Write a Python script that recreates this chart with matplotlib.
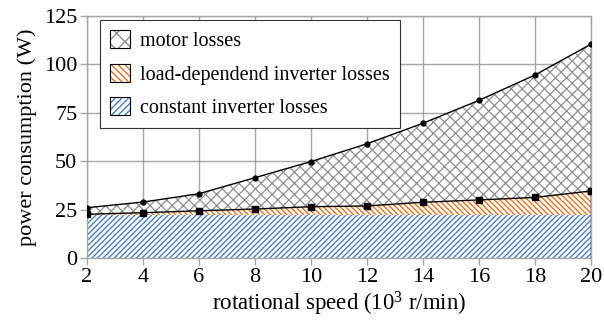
import matplotlib
matplotlib.use("Agg")
import matplotlib.pyplot as plt
from matplotlib.patches import Patch
import numpy as np

speed = [2, 4, 6, 8, 10, 12, 14, 16, 18, 20]
total = [26.0, 28.9, 33.2, 41.5, 49.8, 59.0, 69.6, 81.4, 94.5, 110.4]
inverter_total = [22.6, 23.4, 24.4, 25.3, 26.5, 26.9, 28.8, 30.0, 31.3, 34.6]
constant_loss = 22.2
labels = ["motor losses", "load-dependend inverter losses", "constant inverter losses"]

plt.rcParams['font.family'] = ['Liberation Serif', 'DejaVu Serif']
plt.rcParams['mathtext.default'] = 'regular'

blue = '#4a7ec4'
orange = '#e8731a'
grayh = '#8f8f8f'
H_BLUE = '//////'
H_OR = '\\' * 6
H_X = 'xxx'

fig = plt.figure(figsize=(6.04, 3.28), dpi=100)
ax = fig.add_axes([0.144, 0.2134, 0.834, 0.7376])

x = np.array(speed)
tot = np.array(total)
inv = np.array(inverter_total)
const = np.full_like(x, constant_loss, dtype=float)

with plt.rc_context({'hatch.linewidth': 1.0}):
    ax.fill_between(x, 0, const, facecolor='white', edgecolor=blue, hatch=H_BLUE, linewidth=0, zorder=2)
    ax.fill_between(x, const, inv, facecolor='white', edgecolor=orange, hatch=H_OR, linewidth=0, zorder=2)
    hb = Patch(facecolor='white', edgecolor=blue, hatch='/////', lw=0)
    ho = Patch(facecolor='white', edgecolor=orange, hatch='\\' * 5, lw=0)
with plt.rc_context({'hatch.linewidth': 0.9}):
    ax.fill_between(x, inv, tot, facecolor='white', edgecolor=grayh, hatch=H_X, linewidth=0, zorder=2)
    hx = Patch(facecolor='white', edgecolor=grayh, hatch='xx', lw=0)

ax.plot(x, tot, color='black', lw=1.0, marker='o', ms=3.5, zorder=4)
ax.plot(x, inv, color='black', lw=1.0, marker='s', ms=4.5, zorder=4)
ax.plot([x[-1], x[-1]], [0, tot[-1]], color='black', lw=1.0, zorder=4)

ax.set_xlim(2, 20)
ax.set_ylim(0, 125)
ax.set_xticks(speed)
ax.set_yticks([0, 25, 50, 75, 100, 125])
ax.grid(True, color='#a6a6a6', lw=1.0, zorder=1)
ax.set_axisbelow(True)
for s in ax.spines.values():
    s.set_color('#a6a6a6')
    s.set_linewidth(1.0)
ax.tick_params(axis='both', direction='out', length=5, width=1.0, color='#a6a6a6',
               labelsize=16, pad=2)

ax.set_xlabel('rotational speed (10$^3$ r/min)', fontsize=16.5, labelpad=2)
ax.set_ylabel('power consumption (W)', fontsize=16, labelpad=5)

border = dict(facecolor='none', edgecolor='black', lw=0.8)
h_motor = (hx, Patch(**border))
h_load = (ho, Patch(**border))
h_const = (hb, Patch(**border))
leg = ax.legend([h_motor, h_load, h_const], labels, loc='upper left',
                bbox_to_anchor=(0.026, 0.983), borderaxespad=0, fontsize=14.5,
                fancybox=False, framealpha=1, edgecolor='#333333',
                handlelength=1.0, handleheight=1.0, labelspacing=0.62,
                handletextpad=0.5, borderpad=0.5)
leg.get_frame().set_linewidth(0.8)
leg.set_zorder(5)

fig.savefig('out.png', dpi=100)
